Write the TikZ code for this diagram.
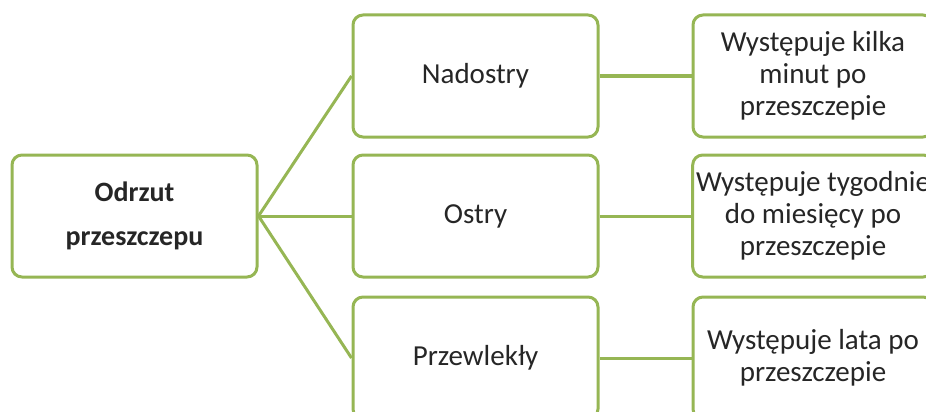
\documentclass[tikz,border=0pt]{standalone}
\usepackage{fontspec}
\setmainfont{Carlito}
\usetikzlibrary{calc}
\definecolor{green1}{RGB}{150, 182, 84}

\begin{document}
\begin{tikzpicture}[x=1pt, y=-1pt, line width=3pt,
  box/.style={draw=green1, fill=white, rounded corners=10pt, minimum width=245pt,
    minimum height=122pt, align=center, text=black!85, font=\fontsize{29}{32}\selectfont}]
  \useasboundingbox (0,0) rectangle (926,412);
  \clip (0,0) rectangle (926,412);
  \node[box, font=\bfseries\fontsize{28}{44}\selectfont] (n1) at (134.5,216) {Odrzut\\przeszczepu};
  \node[box] (n2) at (475.5,76) {Nadostry};
  \node[box] (n3) at (475.5,216) {Ostry};
  \node[box] (n4) at (475.5,358) {Przewlekły};
  \node[box, minimum width=240pt] (n5) at (813,76) {Występuje kilka\\minut po\\przeszczepie};
  \node[box, minimum width=240pt] (n6) at (813,216) {Występuje tygodnie\\do miesięcy po\\przeszczepie};
  \node[box, minimum width=240pt] (n7) at (813,358) {Występuje lata po\\przeszczepie};
  \foreach \from/\to in {n1/n2, n1/n3, n1/n4, n2/n5, n3/n6, n4/n7}
   \draw[green1] (\from.east) -- (\to.west);
\end{tikzpicture}
\end{document}
